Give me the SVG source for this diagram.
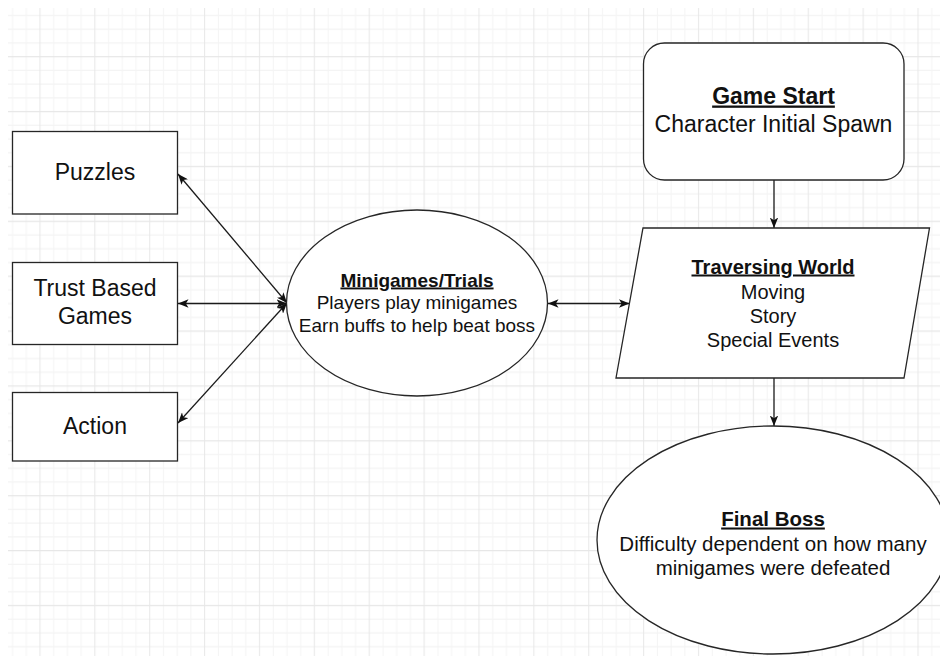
<svg xmlns="http://www.w3.org/2000/svg" width="940" height="656" viewBox="0 0 940 656">
  <style>
    .shape { fill: #ffffff; stroke: #262626; stroke-width: 1.3; }
    .edge { fill: none; stroke: #1a1a1a; stroke-width: 1.3; }
    .t { font-family: "Liberation Sans", Arial, sans-serif; fill: #111111; text-anchor: middle; }
    .b { font-weight: bold; text-decoration: underline; }
  </style>
  <defs>
    <pattern id="grid" patternUnits="userSpaceOnUse" x="19.42" y="36.12" width="54.88" height="54.88">
      <path d="M6.86 0V54.88M34.3 0V54.88M48.02 0V54.88M0 6.86H54.88M0 34.3H54.88M0 48.02H54.88" stroke="#f4f4f4" stroke-width="1" fill="none"/>
      <path d="M20.58 0V54.88M0 20.58H54.88" stroke="#e7e7e7" stroke-width="1" fill="none"/>
    </pattern>
    <marker id="arr" viewBox="0 0 10 8" refX="10" refY="4" markerWidth="10.5" markerHeight="8.4" markerUnits="userSpaceOnUse" orient="auto-start-reverse">
      <path d="M0,0 L10,4 L0,8 L2.5,4 z" fill="#111111"/>
    </marker>
  </defs>
  <rect x="0" y="0" width="940" height="656" fill="#ffffff"/>
  <rect x="8" y="8" width="932" height="648" fill="url(#grid)"/>

  <g id="connectors">
    <path class="edge" d="M178,174 L287,303" marker-start="url(#arr)" marker-end="url(#arr)"/>
    <path class="edge" d="M178,303.5 L287,303.5" marker-start="url(#arr)" marker-end="url(#arr)"/>
    <path class="edge" d="M178,423 L287,303" marker-start="url(#arr)" marker-end="url(#arr)"/>
    <path class="edge" d="M548,303.5 L629.5,303.5" marker-start="url(#arr)" marker-end="url(#arr)"/>
    <path class="edge" d="M774,180 L774,228" marker-end="url(#arr)"/>
    <path class="edge" d="M774,378 L774,426" marker-end="url(#arr)"/>
  </g>

  <g id="puzzles">
    <rect class="shape" x="12.5" y="131.5" width="165" height="82.5"/>
    <text class="t" x="95" y="179.5" font-size="23">Puzzles</text>
  </g>

  <g id="trust-based-games">
    <rect class="shape" x="12.5" y="262.5" width="165" height="82"/>
    <text class="t" x="95" y="296" font-size="23">Trust Based</text>
    <text class="t" x="95" y="324" font-size="23">Games</text>
  </g>

  <g id="action">
    <rect class="shape" x="12.5" y="392.5" width="165" height="68.5"/>
    <text class="t" x="95" y="433.5" font-size="23">Action</text>
  </g>

  <g id="minigames">
    <ellipse class="shape" cx="417" cy="303" rx="130.5" ry="93"/>
    <text class="t b" x="417" y="286.5" font-size="19">Minigames/Trials</text>
    <text class="t" x="417" y="309.3" font-size="19">Players play minigames</text>
    <text class="t" x="417" y="332" font-size="19">Earn buffs to help beat boss</text>
  </g>

  <g id="game-start">
    <rect class="shape" x="643.5" y="43" width="260.5" height="137" rx="21" ry="21"/>
    <text class="t b" x="773.5" y="103.5" font-size="23">Game Start</text>
    <text class="t" x="773.5" y="131.5" font-size="23">Character Initial Spawn</text>
  </g>

  <g id="traversing-world">
    <polygon class="shape" points="643,228 929.5,228 904,378 616,378"/>
    <text class="t b" x="773" y="273.5" font-size="20">Traversing World</text>
    <text class="t" x="773" y="298.5" font-size="20">Moving</text>
    <text class="t" x="773" y="323" font-size="20">Story</text>
    <text class="t" x="773" y="347" font-size="20">Special Events</text>
  </g>

  <g id="final-boss">
    <ellipse class="shape" cx="773" cy="540" rx="176" ry="114"/>
    <text class="t b" x="773" y="525.5" font-size="20.5">Final Boss</text>
    <text class="t" x="773" y="550.5" font-size="20.5">Difficulty dependent on how many</text>
    <text class="t" x="773" y="575" font-size="20.5">minigames were defeated</text>
  </g>
</svg>
